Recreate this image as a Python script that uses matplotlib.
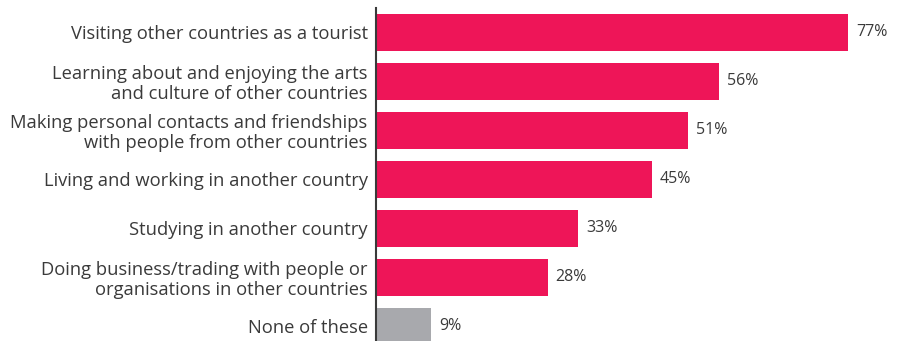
import matplotlib.pyplot as plt

# --- data ---
labels = [
    "Visiting other countries as a tourist",
    "Learning about and enjoying the arts\nand culture of other countries",
    "Making personal contacts and friendships\nwith people from other countries",
    "Living and working in another country",
    "Studying in another country",
    "Doing business/trading with people or\norganisations in other countries",
    "None of these",
]
values = [77, 56, 51, 45, 33, 28, 9]
colors = ["#EE1558"] * 6 + ["#A8A9AD"]

plt.rcParams['font.family'] = ['Open Sans', 'DejaVu Sans']

fig = plt.figure(figsize=(9.06, 3.41), dpi=100)
ax = fig.add_axes([376 / 906, 0, 1 - 376 / 906, 333 / 341])

pos = list(range(len(values)))
ax.barh(pos, values, height=0.755, color=colors)

for p, v in zip(pos, values):
    ax.text(v + 1.3, p, f"{v}%", va='center', ha='left', fontsize=11.5, color='#3a3a3a')

ax.set_yticks(pos)
ax.set_yticklabels(labels, fontsize=13.2, color='#3a3a3a', linespacing=1.12)
ax.tick_params(axis='y', length=0, pad=6)
ax.set_xticks([])
ax.set_xlim(0, 86.5)
ax.set_ylim(6.306, -0.49)

for s in ['top', 'right', 'bottom']:
    ax.spines[s].set_visible(False)
ax.spines['left'].set_color('#3a3a3a')
ax.spines['left'].set_linewidth(1.5)

fig.savefig("out.png", dpi=100)
